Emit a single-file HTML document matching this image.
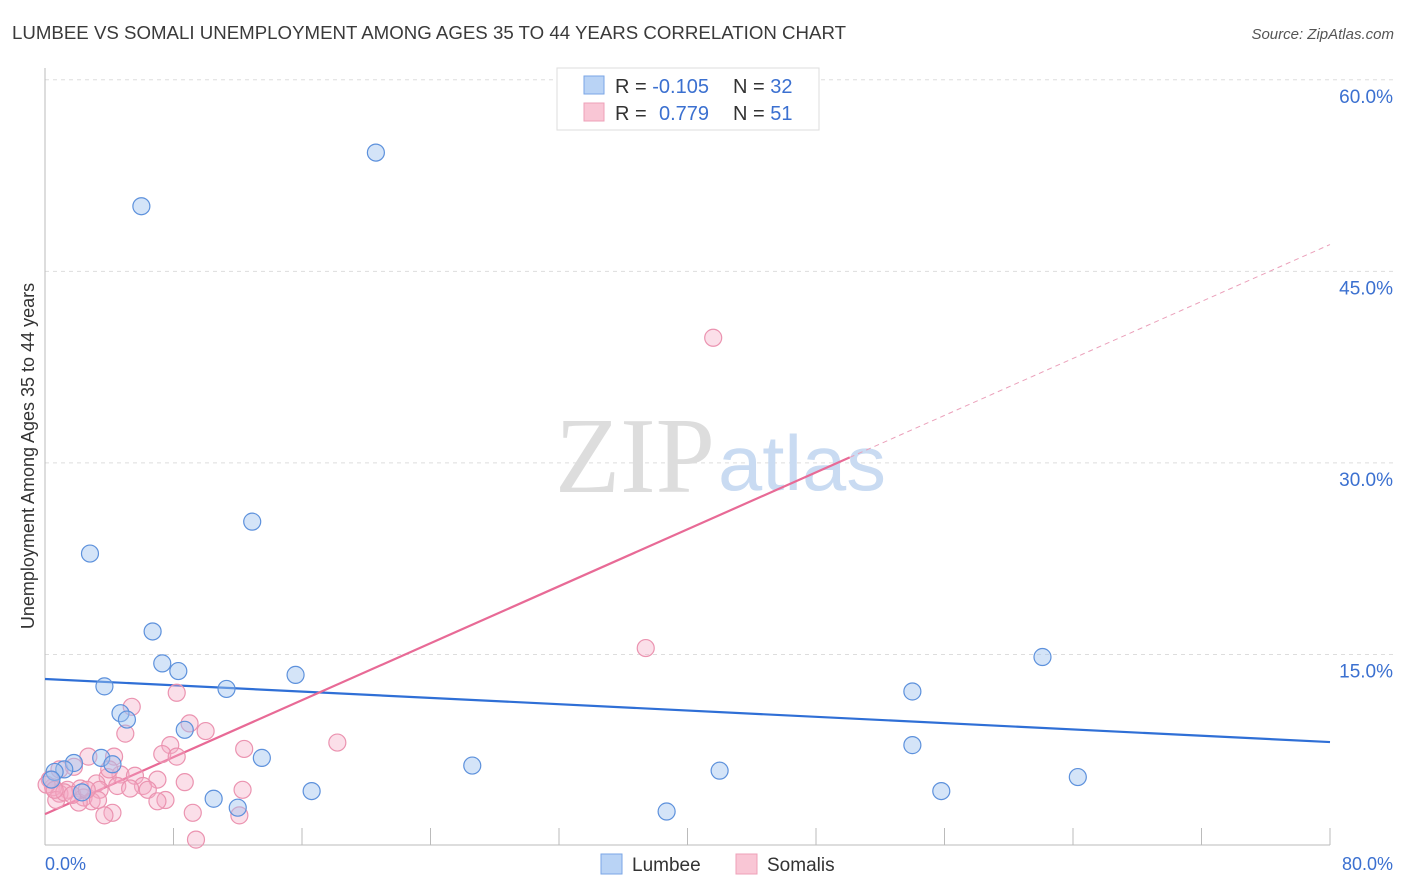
<!DOCTYPE html>
<html><head><meta charset="utf-8"><style>
body{margin:0;background:#fff;font-family:"Liberation Sans",sans-serif}
svg{display:block}
</style></head><body>
<svg width="1406" height="892">
<text x="12" y="39" font-size="18" fill="#3a3a3a" textLength="834" lengthAdjust="spacingAndGlyphs">LUMBEE VS SOMALI UNEMPLOYMENT AMONG AGES 35 TO 44 YEARS CORRELATION CHART</text>
<text x="1394" y="39" font-size="15" fill="#555" font-style="italic" text-anchor="end">Source: ZipAtlas.com</text>
<g id="grid"></g>
<g>
<text x="555" y="492" font-family="Liberation Serif,serif" font-size="108" fill="#ddd" textLength="160" lengthAdjust="spacingAndGlyphs">ZIP</text>
<text x="718" y="490" font-size="78" fill="#c9dbf2" textLength="168" lengthAdjust="spacingAndGlyphs">atlas</text>
</g>
<line x1="45" y1="68" x2="45" y2="845" stroke="#bbb"/>
<line x1="45" y1="845" x2="1330" y2="845" stroke="#bbb"/>
<g id="ticks"></g>
<g id="lines"></g>
<g id="pts"></g>
<text transform="translate(34,456) rotate(-90)" font-size="18" fill="#333" text-anchor="middle">Unemployment Among Ages 35 to 44 years</text>
<text x="45" y="870" font-size="18" fill="#3b70d0">0.0%</text>
<text x="1393" y="870" font-size="18" fill="#3b70d0" text-anchor="end">80.0%</text>
<g>
<rect x="557" y="68" width="262" height="62" fill="#fff" stroke="#ddd"/>
<rect x="584" y="76" width="20" height="18" fill="#b9d3f5" stroke="#7aa6e6"/>
<rect x="584" y="103" width="20" height="18" fill="#f9c6d5" stroke="#eea0b8"/>
<text x="615" y="93" font-size="20" fill="#333">R = <tspan fill="#3b70d0">-0.105</tspan><tspan x="733">N = </tspan><tspan fill="#3b70d0">32</tspan></text>
<text x="615" y="120" font-size="20" fill="#333">R = <tspan x="659" fill="#3b70d0">0.779</tspan><tspan x="733">N = </tspan><tspan fill="#3b70d0">51</tspan></text>
</g>
<g>
<rect x="601" y="854" width="21" height="20" fill="#b9d3f5" stroke="#7aa6e6"/>
<text x="632" y="871" font-size="19" fill="#333">Lumbee</text>
<rect x="736" y="854" width="21" height="20" fill="#f9c6d5" stroke="#eea0b8"/>
<text x="767" y="871" font-size="19" fill="#333">Somalis</text>
</g>
</svg>
<script>
const yTicks=[15,30,45,60];
const yTickLabels=["15.0%","30.0%","45.0%","60.0%"];
const xTicks=[8,16,24,32,40,48,56,64,72,80];
const lumbeeX=[20.6,6.0,12.9,2.8,6.7,7.3,8.3,15.6,3.7,11.3,4.7,5.1,8.7,13.5,3.5,1.8,4.2,1.2,0.6,0.4,26.6,16.6,10.5,12.0,38.7,42.0,54.0,54.0,55.8,62.1,64.3,2.3];
const lumbeeY=[54.3,50.1,25.4,22.9,16.8,14.3,13.7,13.4,12.5,12.3,10.4,9.9,9.1,6.9,6.9,6.5,6.4,6.0,5.8,5.2,6.3,4.3,3.7,3.0,2.7,5.9,12.1,7.9,4.3,14.8,5.4,4.2];
const somaliX=[41.6,37.4,18.2,8.2,5.4,9.0,10.0,5.0,7.8,12.4,7.3,8.2,2.7,4.3,1.8,4.7,3.9,5.6,7.0,8.7,3.2,6.1,4.5,5.3,6.4,12.3,1.4,2.2,3.4,0.9,0.5,0.3,0.7,2.4,2.9,3.3,7.5,7.0,2.1,4.2,3.7,9.2,12.1,9.4,0.1,1.2,1.7,0.6,2.6,0.9,4.0];
const somaliY=[39.8,15.5,8.1,12.0,10.9,9.6,9.0,8.8,7.9,7.6,7.2,7.0,7.0,7.0,6.2,5.6,5.4,5.5,5.2,5.0,4.9,4.7,4.7,4.5,4.4,4.4,4.4,4.5,4.4,4.1,4.6,5.2,3.6,3.8,3.5,3.6,3.6,3.5,3.4,2.6,2.4,2.6,2.4,0.5,4.8,4.2,4.0,4.4,4.4,6.0,6.0];
const lumbeeTrend=[13.08,8.14];
const somaliTrend=[2.5,47.1];
const somaliSolidEnd=50.1;
const NS="http://www.w3.org/2000/svg";
const X=v=>45+v*(1285/80);
const Y=v=>846-v*12.77;
function mk(tag,attrs,parent){const e=document.createElementNS(NS,tag);for(const k in attrs)e.setAttribute(k,attrs[k]);document.getElementById(parent).appendChild(e);return e;}
yTicks.forEach((t,i)=>{
 const l=mk('line',{x1:45,x2:1394,y1:Y(t),y2:Y(t),stroke:'#ddd','stroke-dasharray':'4,4'},'grid');
 
 
 const tx=mk('text',{x:1393,y:Y(t)+23,'font-size':19,fill:'#3b70d0','text-anchor':'end'},'grid');
 tx.textContent=yTickLabels[i];
 
 
});
xTicks.forEach(t=>{
 const l=mk('line',{x1:X(t),x2:X(t),y1:828,y2:845,stroke:'#bbb'},'ticks');
 
 
});
let l1=mk('line',{x1:X(0),y1:Y(lumbeeTrend[0]),x2:X(80),y2:Y(lumbeeTrend[1]),stroke:'#2f6fd6','stroke-width':2.2},'lines');


const sy=x=>somaliTrend[0]+(somaliTrend[1]-somaliTrend[0])*x/80;
let l2=mk('line',{x1:X(0),y1:Y(sy(0)),x2:X(somaliSolidEnd),y2:Y(sy(somaliSolidEnd)),stroke:'#e86a96','stroke-width':2.2},'lines');


let l3=mk('line',{x1:X(somaliSolidEnd),y1:Y(sy(somaliSolidEnd)),x2:X(80),y2:Y(sy(80)),stroke:'#eba0ba','stroke-width':1,'stroke-dasharray':'5,4'},'lines');


somaliX.forEach((x,i)=>{
 const c=mk('circle',{cx:X(x),cy:Y(somaliY[i]),r:8.5,fill:'rgba(245,170,196,0.38)',stroke:'#eb93b0','stroke-width':1.2},'pts');
 
 
});
lumbeeX.forEach((x,i)=>{
 const c=mk('circle',{cx:X(x),cy:Y(lumbeeY[i]),r:8.5,fill:'rgba(160,196,240,0.45)',stroke:'#5d91dc','stroke-width':1.2},'pts');
 
 
});
</script>
</body></html>
